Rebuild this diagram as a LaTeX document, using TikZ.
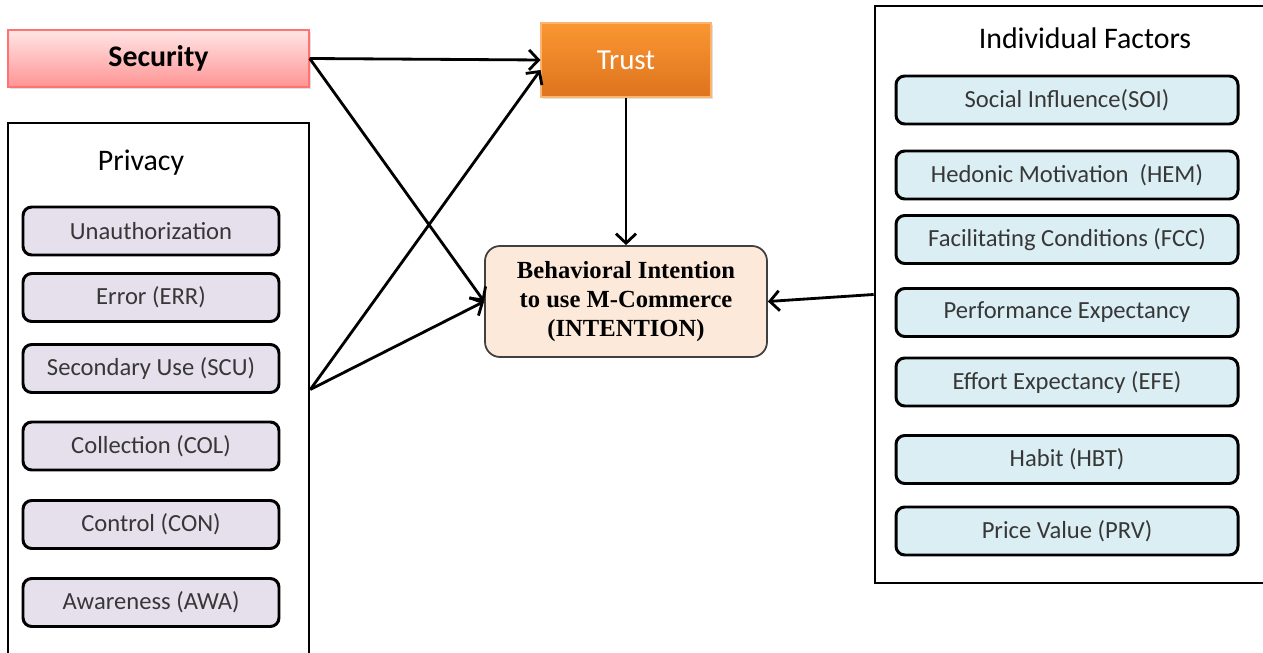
\documentclass[tikz,border=0pt]{standalone}
\usepackage{fontspec}
\setmainfont{Carlito}
\newfontfamily\intfont{Liberation Serif}
\usepackage{tikz}
\usetikzlibrary{positioning, arrows.meta, calc, shadows}
\definecolor{privfill}{RGB}{229,224,236}
\definecolor{factfill}{RGB}{218,238,243}
\definecolor{intfill}{RGB}{253,233,217}
\definecolor{boxtext}{RGB}{55,55,55}
\definecolor{trusttop}{RGB}{250,150,50}
\definecolor{trustbot}{RGB}{222,116,30}
\tikzset{
  groupbox/.style={rectangle, draw=black, line width=1.5pt, fill=white},
  itembox/.style={rectangle, rounded corners=5pt, draw=black, line width=1.7pt, minimum height=0.96cm, text=boxtext, font=\fontsize{14}{16}\selectfont},
  arrow/.style={line width=1.6pt, -{Straight Barb[length=1.9mm, width=4mm]}}
}

\begin{document}
\begin{tikzpicture}[
        group_title/.style={font=\fontsize{17}{20}\selectfont, text=black},
        sec_box/.style={rectangle, minimum width=6.02cm, minimum height=1.14cm, top color=red!10, bottom color=red!42, draw=red!55, line width=0.8pt, font=\fontsize{17}{20}\selectfont\bfseries, drop shadow={opacity=0.25, shadow xshift=0.04, shadow yshift=-0.04}},
        trust_box/.style={rectangle, minimum width=3.4cm, minimum height=1.48cm, top color=trusttop, bottom color=trustbot, draw=trusttop!70!white, line width=0.6pt, text=white, font=\fontsize{16.5}{19}\selectfont, drop shadow={opacity=0.25, shadow xshift=0.04, shadow yshift=-0.04}},
        int_box/.style={rectangle, rounded corners=0.3cm, minimum width=5.64cm, minimum height=2.22cm, fill=intfill, draw=black!75, line width=1pt, align=center, font=\intfont\bfseries\fontsize{14}{16.5}\selectfont}
    ]
    \useasboundingbox (0,0) rectangle (25.26,-13.06);

    % Security and Trust
    \node[sec_box] (security) at (3.17,-1.17) {Security};
    \node[trust_box] (trust) at (12.52,-1.2) {Trust};

    % Behavioral intention
    \node[int_box] (intention) at (12.52,-6.03) {Behavioral Intention\\to use M-Commerce\\(INTENTION)};

    % Privacy group
    \node[groupbox, minimum width=6.02cm, minimum height=10.66cm] (privacy) at (3.17,-7.79) {};
    \node[group_title] (privacytitle) at (2.82,-3.26) {Privacy};
    \foreach \y/\name/\txt in {
        4.62/unauth/Unauthorization, 5.95/err/Error (ERR), 7.37/scu/Secondary Use (SCU),
        8.92/col/Collection (COL), 10.49/con/Control (CON), 12.05/awa/Awareness (AWA)
    } {
        \node[itembox, fill=privfill, minimum width=5.12cm] (\name) at (3.02,-\y) {\txt};
    }

    % Individual factors group
    \node[groupbox, minimum width=7.82cm, minimum height=11.54cm] (factors) at (21.41,-5.89) {};
    \node[group_title] (factorstitle) at (21.7,-0.76) {Individual Factors};
    \foreach \y/\name/\txt in {
        2.0/soi/Social Influence(SOI), 3.5/hem/Hedonic Motivation~~(HEM), 4.79/fcc/Facilitating Conditions (FCC),
        6.25/pee/Performance Expectancy, 7.64/efe/Effort Expectancy (EFE), 9.19/hbt/Habit (HBT),
        10.62/prv/Price Value (PRV)
    } {
        \node[itembox, fill=factfill, minimum width=6.84cm] (\name) at (21.34,-\y) {\txt};
    }

    % Arrows
    \draw[arrow] (security.east) -- (trust.west);
    \draw[arrow] (security.east) -- (intention.west);
    \draw[arrow] (privacy.east) -- ($(trust.west)+(0,-0.2)$);
    \draw[arrow] (privacy.east) -- (intention.west);
    \draw[arrow] (trust.south) -- (intention.north);
    \draw[arrow] (factors.west) -- (intention.east);

\end{tikzpicture}
\end{document}
